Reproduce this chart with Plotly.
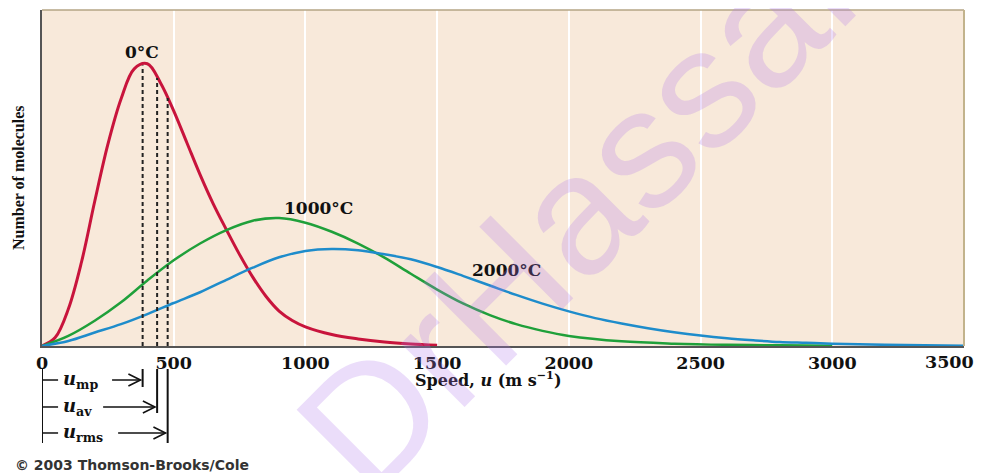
import numpy as np
import plotly.graph_objects as go

# ---- data ----
speeds_0C = [0, 50, 100, 150, 200, 250, 300, 350, 400, 450, 500, 550, 600, 650, 700,
             750, 800, 850, 900, 950, 1000, 1100, 1200, 1300, 1400, 1500]
n_0C = [0, 2.5, 11, 25, 43, 60, 73.5, 82.5, 84.0, 78.3, 70, 60.5, 51, 42.3, 34.6,
        27.2, 20.5, 14.8, 10.4, 7.6, 5.7, 3.4, 2.1, 1.2, 0.6, 0.2]

speeds_1000C = [0, 100, 200, 300, 400, 500, 600, 700, 800, 900, 1000, 1100, 1200, 1300,
                1400, 1500, 1600, 1700, 1800, 1900, 2000, 2200, 2400, 2600, 2800, 3000]
n_1000C = [0, 3, 7.5, 13, 19.5, 25.5, 30.5, 34.5, 37.3, 38.1, 36.7, 34, 30.5, 26.3,
           21.5, 16.8, 12.6, 9.2, 6.5, 4.5, 3.0, 1.4, 0.7, 0.35, 0.2, 0.1]

speeds_2000C = [0, 100, 200, 300, 400, 500, 600, 700, 800, 900, 1000, 1100, 1200, 1300, 1400,
                1500, 1600, 1700, 1800, 1900, 2000, 2100, 2200, 2300, 2400, 2500, 2600, 2700,
                2800, 2900, 3000, 3200, 3500]
n_2000C = [0, 1.5, 4, 6.5, 9.5, 12.8, 16, 19.7, 23.3, 26.4, 28.3, 28.9, 28.5, 27.3, 25.8,
           23.5, 20.8, 18, 15.2, 12.6, 10.3, 8.3, 6.7, 5.3, 4.1, 3.1, 2.3, 1.7,
           1.2, 0.95, 0.7, 0.35, 0.1]

series_names = ["0°C", "1000°C", "2000°C"]
series_colors = ["#C8143C", "#1FA03A", "#1E8CCB"]
label_pos_u = [381, 1048, 1765]
label_pos_n = [87.4, 41.1, 22.6]

char_speeds = [382, 437, 477]          # u_mp, u_av, u_rms at 0 °C
char_names = ["mp", "av", "rms"]

tick_vals = [0, 500, 1000, 1500, 2000, 2500, 3000, 3500]
tick_text = ["0", "500", "1000", "1500", "2000", "2500", "3000", "3500"]

SERIF = "DejaVu Serif"
TICK_FONT = dict(family=SERIF, size=17.5, color="#111")

fig = go.Figure()

for sx, sy, name, col, w in zip([speeds_0C, speeds_1000C, speeds_2000C],
                                [n_0C, n_1000C, n_2000C],
                                series_names, series_colors, [3, 2.5, 2.5]):
    fig.add_trace(go.Scatter(x=sx, y=sy, mode="lines", name=name,
                             line=dict(color=col, width=w, shape="spline", smoothing=1.0),
                             hoverinfo="skip"))

# dashed lines from axis up to the 0 °C curve
for u in char_speeds:
    top = float(np.interp(u, speeds_0C, n_0C))
    fig.add_trace(go.Scatter(x=[u, u], y=[0, top], mode="lines",
                             line=dict(color="#222222", width=2, dash="4px,3px"),
                             hoverinfo="skip"))

annotations = []
for name, u, n in zip(series_names, label_pos_u, label_pos_n):
    annotations.append(dict(x=u, y=n, xref="x", yref="y", text="<b>" + name + "</b>",
                            showarrow=False, font=dict(family=SERIF, size=17, color="#111")))

# axis titles
annotations.append(dict(x=1408, y=-0.097, xref="x", yref="paper", xanchor="left", yanchor="middle",
                        text="<b>Speed, <i>u</i> (m s<sup>−1</sup>)</b>", showarrow=False,
                        font=dict(family=SERIF, size=16, color="#111")))
annotations.append(dict(x=-0.026, y=0.5, xref="paper", yref="paper", textangle=-90,
                        xanchor="center", yanchor="middle",
                        text="<b>Number of molecules</b>", showarrow=False,
                        font=dict(family="Liberation Serif", size=16, color="#111")))

# the last tick label sits right-aligned at the page edge, as in the reference
tick_labels = ["<b>" + t + "</b>" for t in tick_text]
annotations.append(dict(x=tick_vals[-1], y=-0.0476, xref="x", yref="paper", xanchor="right",
                        yanchor="middle", xshift=12, text=tick_labels[-1], showarrow=False,
                        font=TICK_FONT))
tick_labels[-1] = ""

# bracket markers under the axis
row_y = [-0.1012, -0.1815, -0.2589]
line_bottom = [-0.122, -0.1994, -0.2887]
text_x = [74, 74, 74]
tail_x = [266, 232, 289]
ARR_DX = 46      # arrowhead length (x data units)
ARR_DY = 0.018   # arrowhead half height (paper units)
shapes = []
shapes.append(dict(type="line", xref="x", yref="paper", x0=0, x1=0, y0=-0.0655, y1=-0.2887,
                   line=dict(color="#111", width=2)))
for u, yb in zip(char_speeds, line_bottom):
    shapes.append(dict(type="line", xref="x", yref="paper", x0=u, x1=u, y0=-0.0685, y1=yb,
                       line=dict(color="#111", width=2)))
for ry, nm, tx, ta, u in zip(row_y, char_names, text_x, tail_x, char_speeds):
    head = u - 8
    shapes.append(dict(type="line", xref="x", yref="paper", x0=0, x1=61, y0=ry, y1=ry,
                       line=dict(color="#111", width=1.5)))
    shapes.append(dict(type="line", xref="x", yref="paper", x0=ta, x1=head, y0=ry, y1=ry,
                       line=dict(color="#111", width=1.5)))
    shapes.append(dict(type="path", xref="x", yref="paper",
                       path=f"M {head - ARR_DX},{ry + ARR_DY} L {head},{ry} L {head - ARR_DX},{ry - ARR_DY}",
                       line=dict(color="#111", width=1.6)))
    annotations.append(dict(x=tx, y=ry, xref="x", yref="paper", xanchor="left", yanchor="middle",
                            text="<b><i>u</i><sub>" + nm + "</sub></b>", showarrow=False,
                            font=dict(family=SERIF, size=18, color="#111")))

# plot frame (top / right)
shapes.append(dict(type="line", xref="paper", yref="paper", x0=0, x1=1, y0=1, y1=1,
                   line=dict(color="#B5A585", width=1.5)))
shapes.append(dict(type="line", xref="paper", yref="paper", x0=1, x1=1, y0=0, y1=1,
                   line=dict(color="#C2B38C", width=2)))

# copyright
annotations.append(dict(x=-0.0315, y=-0.354, xref="paper", yref="paper", xanchor="left",
                        yanchor="middle", text="© 2003 Thomson-Brooks/Cole", showarrow=False,
                        font=dict(family="DejaVu Sans", size=14, color="#333", weight="bold")))

# watermark
annotations.append(dict(x=0.600, y=0.455, xref="paper", yref="paper", text="DrHassan",
                        textangle=-45, showarrow=False,
                        font=dict(family="Liberation Sans", size=170, color="rgba(175,120,235,0.25)")))

# the page body has an 8px margin: size the figure so the plot area lands where the reference has it
fig.update_layout(
    width=979, height=465,
    margin=dict(l=34, r=23, t=2, b=127, autoexpand=False),
    plot_bgcolor="#F8E9DA", paper_bgcolor="white",
    showlegend=False,
    xaxis=dict(range=[0, 3500], tickvals=tick_vals, ticktext=tick_labels,
               tickfont=TICK_FONT, automargin=False,
               showgrid=True, gridcolor="white", gridwidth=2, zeroline=False,
               showline=True, linecolor="#555", linewidth=2, ticks="", fixedrange=True),
    yaxis=dict(range=[0, 100], showticklabels=False, showgrid=False, zeroline=False,
               automargin=False,
               showline=True, linecolor="#555", linewidth=2, ticks="", fixedrange=True),
    shapes=shapes, annotations=annotations,
)

fig.write_html("out.html")
